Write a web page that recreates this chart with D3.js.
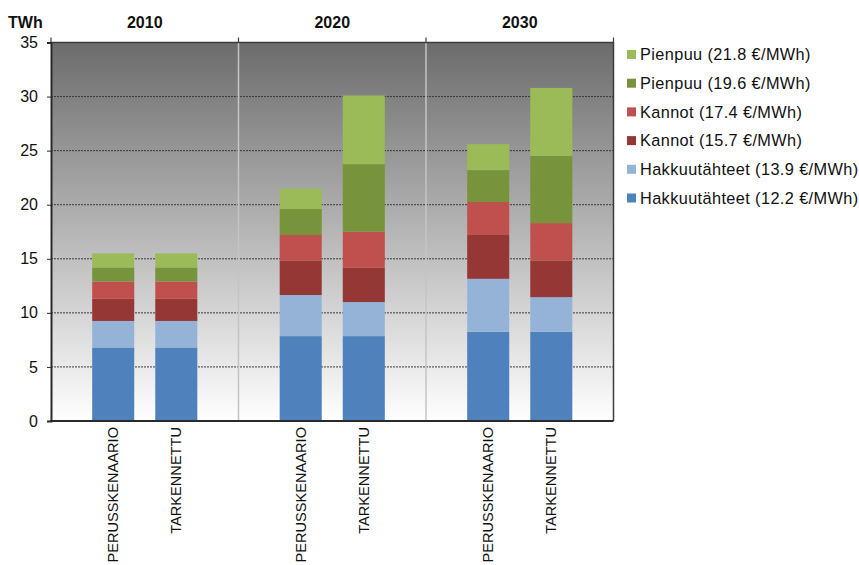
<!DOCTYPE html>
<html>
<head>
<meta charset="utf-8">
<script src="https://cdn.jsdelivr.net/npm/d3@7"></script>
<style>
  html, body { margin: 0; padding: 0; background: #fff; }
  svg { display: block; font-family: "Liberation Sans", Arial, sans-serif; }
</style>
</head>
<body>
<svg id="chart" width="859" height="565"></svg>
<script>
// Years (groups) and scenarios (bars inside each group)
const years = ["2010", "2020", "2030"];
const scenarios = ["PERUSSKENAARIO", "TARKENNETTU"];

// Stack order: bottom to top
const seriesNames = [
  "Hakkuutähteet (12.2 €/MWh)",
  "Hakkuutähteet (13.9 €/MWh)",
  "Kannot (15.7 €/MWh)",
  "Kannot (17.4 €/MWh)",
  "Pienpuu (19.6 €/MWh)",
  "Pienpuu (21.8 €/MWh)"
];
const seriesColors = ["#4F81BD", "#95B3D7", "#953735", "#C0504D", "#77933C", "#9BBB59"];

// Values in TWh, one entry per bar:
// 2010 PERUS, 2010 TARK, 2020 PERUS, 2020 TARK, 2030 PERUS, 2030 TARK
const hakkuu122 = [6.8, 6.8, 7.85, 7.85, 8.25, 8.25];
const hakkuu139 = [2.45, 2.45, 3.8, 3.15, 4.9, 3.2];
const kannot157 = [2.05, 2.05, 3.2, 3.2, 4.05, 3.4];
const kannot174 = [1.6, 1.6, 2.35, 3.3, 3.05, 3.45];
const pienpuu196 = [1.3, 1.3, 2.4, 6.25, 2.95, 6.2];
const pienpuu218 = [1.3, 1.3, 1.9, 6.35, 2.4, 6.3];

const yTicks = [0, 5, 10, 15, 20, 25, 30, 35];

const seriesValues = [hakkuu122, hakkuu139, kannot157, kannot174, pienpuu196, pienpuu218];

// Build one row per bar for d3.stack
const rows = [];
years.forEach((yr, gi) => {
  scenarios.forEach((sc, si) => {
    const idx = gi * scenarios.length + si;
    const row = { year: yr, scenario: sc };
    seriesNames.forEach((name, k) => { row[name] = seriesValues[k][idx]; });
    rows.push(row);
  });
});

const svg = d3.select("#chart");
const plot = { left: 51, right: 613.5, top: 42.5, bottom: 421 };

const x0 = d3.scaleBand().domain(years).range([plot.left, plot.right]).padding(0);
const x1 = d3.scaleBand().domain(scenarios).range([0, x0.bandwidth()])
  .paddingInner(1 / 3).paddingOuter(0.653);
const y = d3.scaleLinear().domain([0, 35]).range([plot.bottom, plot.top]);

// Plot background: dark grey at top fading to white
const defs = svg.append("defs");
const grad = defs.append("linearGradient").attr("id", "bg")
  .attr("x1", 0).attr("y1", 0).attr("x2", 0).attr("y2", 1);
grad.append("stop").attr("offset", "0%").attr("stop-color", "#6c6c6c");
grad.append("stop").attr("offset", "100%").attr("stop-color", "#ffffff");

svg.append("rect")
  .attr("x", plot.left).attr("y", plot.top)
  .attr("width", plot.right - plot.left).attr("height", plot.bottom - plot.top)
  .attr("fill", "url(#bg)");

// Horizontal dashed gridlines
svg.append("g").selectAll("line")
  .data(yTicks.filter(t => t > 0 && t < 35))
  .join("line")
  .attr("x1", plot.left).attr("x2", plot.right)
  .attr("y1", d => y(d)).attr("y2", d => y(d))
  .attr("stroke", "#3a3a3a").attr("stroke-width", 1)
  .attr("stroke-dasharray", "2,1");

// Vertical separators between year groups
const bounds = years.slice(1).map(yr => x0(yr));
svg.append("g").selectAll("line")
  .data(bounds)
  .join("line")
  .attr("x1", d => d).attr("x2", d => d)
  .attr("y1", plot.top).attr("y2", plot.bottom)
  .attr("stroke", "#c4c4c4").attr("stroke-width", 1.5);

// Stacked bars
const stack = d3.stack().keys(seriesNames);
const stacked = stack(rows);

svg.append("g").selectAll("g")
  .data(stacked)
  .join("g")
  .attr("fill", (d, i) => seriesColors[i])
  .selectAll("rect")
  .data(d => d)
  .join("rect")
  .attr("x", d => x0(d.data.year) + x1(d.data.scenario))
  .attr("width", x1.bandwidth())
  .attr("y", d => y(d[1]))
  .attr("height", d => y(d[0]) - y(d[1]));

// Frame: top and right border
svg.append("path")
  .attr("d", `M${plot.left},${plot.top}H${plot.right}V${plot.bottom}`)
  .attr("fill", "none").attr("stroke", "#3c3c3c").attr("stroke-width", 1.5);

// Small tick marks above the frame at group boundaries
const topTicks = [plot.left, ...bounds, plot.right];
svg.append("g").selectAll("line")
  .data(topTicks)
  .join("line")
  .attr("x1", d => d).attr("x2", d => d)
  .attr("y1", plot.top - 5).attr("y2", plot.top)
  .attr("stroke", "#3c3c3c").attr("stroke-width", 1.2);

// Y axis
const yAxis = d3.axisLeft(y).tickValues(yTicks).tickSize(4).tickPadding(9);
const yG = svg.append("g").attr("transform", `translate(${plot.left},0)`).call(yAxis);
yG.select(".domain").attr("stroke", "#2a2a2a").attr("stroke-width", 2);
yG.selectAll(".tick line").attr("stroke", "#2a2a2a");
yG.selectAll(".tick text")
  .attr("font-size", 16).attr("fill", "#111")
  .attr("font-family", "Liberation Sans, Arial, sans-serif");

// Bottom axis line
svg.append("line")
  .attr("x1", plot.left - 1).attr("x2", plot.right)
  .attr("y1", plot.bottom).attr("y2", plot.bottom)
  .attr("stroke", "#2a2a2a").attr("stroke-width", 2);

// Unit label
svg.append("text")
  .attr("x", 8).attr("y", 28)
  .attr("font-size", 16).attr("font-weight", "bold").attr("fill", "#111")
  .text("TWh");

// Year labels above groups
svg.append("g").selectAll("text")
  .data(years)
  .join("text")
  .attr("x", d => x0(d) + x0.bandwidth() / 2)
  .attr("y", 28)
  .attr("text-anchor", "middle")
  .attr("font-size", 16).attr("font-weight", "bold").attr("fill", "#111")
  .text(d => d);

// Rotated scenario labels under each bar
svg.append("g").selectAll("text")
  .data(rows)
  .join("text")
  .attr("transform", d => `translate(${x0(d.year) + x1(d.scenario) + x1.bandwidth() / 2},427) rotate(-90)`)
  .attr("dy", "0.35em")
  .attr("text-anchor", "end")
  .attr("font-size", 14.6).attr("fill", "#111")
  .text(d => d.scenario);

// Legend, top entry is the top of the stack
const legendItems = seriesNames.map((n, i) => ({ name: n, color: seriesColors[i] })).reverse();
const legend = svg.append("g").selectAll("g")
  .data(legendItems)
  .join("g")
  .attr("transform", (d, i) => `translate(627,${54.5 + i * 28.7})`);
legend.append("rect")
  .attr("x", 0).attr("y", -4.5).attr("width", 9).attr("height", 9)
  .attr("fill", d => d.color);
legend.append("text")
  .attr("x", 13).attr("dy", "0.35em")
  .attr("font-size", 16.3).attr("letter-spacing", 0.4).attr("fill", "#111")
  .text(d => d.name);
</script>
</body>
</html>
